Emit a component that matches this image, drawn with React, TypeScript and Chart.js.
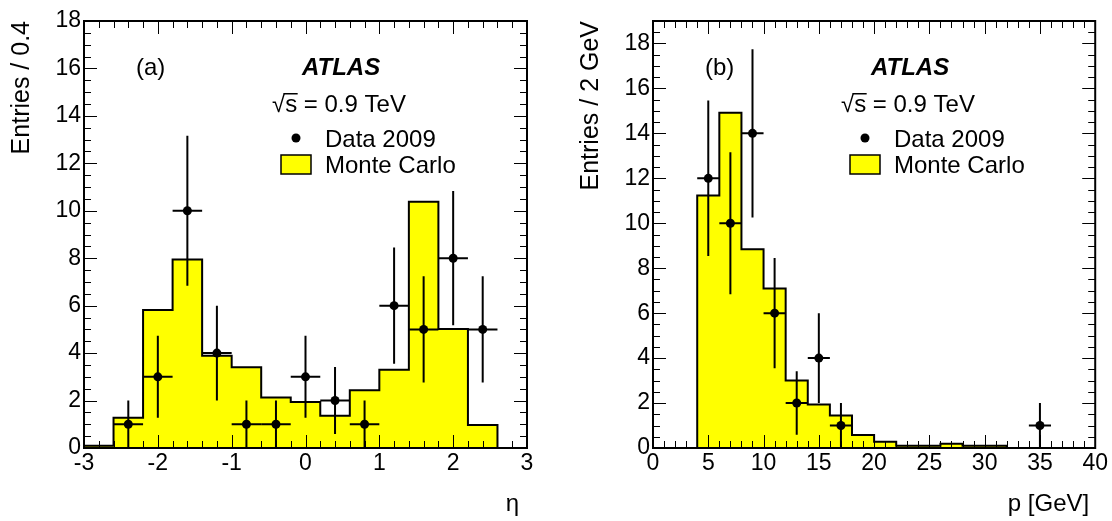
import React, { useEffect, useRef } from 'react';
import { Chart, registerables } from 'chart.js';

Chart.register(...registerables);

const FONT = "'Liberation Sans', Arial, Helvetica, sans-serif";

// ---------- Panel (a): eta ----------
const etaEdges = [-3.0, -2.6, -2.2, -1.8, -1.4, -1.0, -0.6, -0.2, 0.2, 0.6, 1.0, 1.4, 1.8, 2.2, 2.6, 3.0];
const etaMC = [0.1, 1.27, 5.82, 7.95, 3.89, 3.4, 2.13, 1.94, 1.36, 2.43, 3.3, 10.38, 5.02, 0.97, 0];
const etaDataX = [-2.4, -2.0, -1.6, -1.2, -0.8, -0.4, 0.0, 0.4, 0.8, 1.2, 1.6, 2.0, 2.4];
const etaDataY = [1, 3, 10, 4, 1, 1, 3, 2, 1, 6, 5, 8, 5];
const etaDataErr = [1, 1.73, 3.16, 2, 1, 1, 1.73, 1.41, 1, 2.45, 2.24, 2.83, 2.24];
const etaXTicks = [-3, -2, -1, 0, 1, 2, 3];
const etaYTicks = [0, 2, 4, 6, 8, 10, 12, 14, 16, 18];

// ---------- Panel (b): p ----------
const pEdges = [0, 2, 4, 6, 8, 10, 12, 14, 16, 18, 20, 22, 24, 26, 28, 30, 32, 34, 36, 38, 40];
const pMC = [0, 0, 11.24, 14.92, 8.84, 7.1, 3.0, 1.94, 1.45, 0.58, 0.28, 0.1, 0.1, 0.19, 0.1, 0.1, 0, 0, 0, 0];
const pDataX = [5, 7, 9, 11, 13, 15, 17, 35];
const pDataY = [12, 10, 14, 6, 2, 4, 1, 1];
const pDataErr = [3.46, 3.16, 3.74, 2.45, 1.41, 2, 1, 1];
const pXTicks = [0, 5, 10, 15, 20, 25, 30, 35, 40];
const pYTicks = [0, 2, 4, 6, 8, 10, 12, 14, 16, 18];

function stepPoints(edges: number[], vals: number[]) {
  const pts: { x: number; y: number }[] = [{ x: edges[0], y: 0 }];
  vals.forEach((v, i) => pts.push({ x: edges[i], y: v }));
  pts.push({ x: edges[edges.length - 1], y: 0 });
  return pts;
}

type PanelCfg = {
  left: number;
  width: number;
  padRight: number;
  edges: number[];
  mc: number[];
  dataX: number[];
  dataY: number[];
  dataErr: number[];
  halfBin: number;
  xMin: number;
  xMax: number;
  yMax: number;
  xTicks: number[];
  yTicks: number[];
  xMinor: number;
  xMajor: number;
  yMinor: number;
  yMajor: number;
  yTitle: string;
  xTitle: string;
  xTitleShift: number;
  tag: string;
};

const panels: PanelCfg[] = [
  {
    left: 0, width: 569, padRight: 42,
    edges: etaEdges, mc: etaMC, dataX: etaDataX, dataY: etaDataY, dataErr: etaDataErr, halfBin: 0.2,
    xMin: -3, xMax: 3, yMax: 18, xTicks: etaXTicks, yTicks: etaYTicks,
    xMinor: 0.2, xMajor: 1, yMinor: 0.5, yMajor: 2,
    yTitle: 'Entries / 0.4', xTitle: 'η', xTitleShift: -8, tag: '(a)',
  },
  {
    left: 569, width: 543, padRight: 15,
    edges: pEdges, mc: pMC, dataX: pDataX, dataY: pDataY, dataErr: pDataErr, halfBin: 1,
    xMin: 0, xMax: 40, yMax: 19, xTicks: pXTicks, yTicks: pYTicks,
    xMinor: 1, xMajor: 5, yMinor: 0.5, yMajor: 2,
    yTitle: 'Entries / 2 GeV', xTitle: 'p [GeV]', xTitleShift: -6, tag: '(b)',
  },
];

function makePlugin(cfg: PanelCfg) {
  return {
    id: 'rootStyle',
    afterDatasetDraw(chart: any, args: any) {
      if (args.index !== 0) return;
      const { ctx, chartArea } = chart;
      const xs = chart.scales.x;
      const ys = chart.scales.y;
      ctx.save();
      ctx.beginPath();
      ctx.rect(chartArea.left, chartArea.top, chartArea.right - chartArea.left, chartArea.bottom - chartArea.top);
      ctx.clip();
      ctx.strokeStyle = '#000';
      ctx.lineWidth = 2;
      cfg.dataX.forEach((x, i) => {
        const y = cfg.dataY[i];
        const e = cfg.dataErr[i];
        const px = xs.getPixelForValue(x);
        const py = ys.getPixelForValue(y);
        ctx.beginPath();
        ctx.moveTo(xs.getPixelForValue(x - cfg.halfBin), py);
        ctx.lineTo(xs.getPixelForValue(x + cfg.halfBin), py);
        ctx.moveTo(px, ys.getPixelForValue(Math.max(0, y - e)));
        ctx.lineTo(px, ys.getPixelForValue(y + e));
        ctx.stroke();
      });
      ctx.restore();
    },
    afterDraw(chart: any) {
      const { ctx, chartArea } = chart;
      const { left, right, top, bottom } = chartArea;
      const xs = chart.scales.x;
      const ys = chart.scales.y;
      ctx.save();
      // ticks
      ctx.strokeStyle = '#000';
      ctx.lineWidth = 1;
      const nx = Math.round((cfg.xMax - cfg.xMin) / cfg.xMinor);
      for (let i = 0; i <= nx; i++) {
        const v = cfg.xMin + i * cfg.xMinor;
        const r = v / cfg.xMajor;
        const major = Math.abs(r - Math.round(r)) < 1e-6;
        const len = major ? 13 : 7;
        const px = Math.round(xs.getPixelForValue(v)) + 0.5;
        ctx.beginPath();
        ctx.moveTo(px, bottom);
        ctx.lineTo(px, bottom - len);
        ctx.moveTo(px, top);
        ctx.lineTo(px, top + len);
        ctx.stroke();
      }
      const ny = Math.round(cfg.yMax / cfg.yMinor);
      for (let i = 0; i <= ny; i++) {
        const v = i * cfg.yMinor;
        const r = v / cfg.yMajor;
        const major = Math.abs(r - Math.round(r)) < 1e-6;
        const len = major ? 13 : 7;
        const py = Math.round(ys.getPixelForValue(v)) + 0.5;
        ctx.beginPath();
        ctx.moveTo(left, py);
        ctx.lineTo(left + len, py);
        ctx.moveTo(right, py);
        ctx.lineTo(right - len, py);
        ctx.stroke();
      }
      // frame
      ctx.lineWidth = 2;
      ctx.strokeRect(left, top, right - left, bottom - top);

      // texts
      ctx.fillStyle = '#000';
      ctx.textAlign = 'left';
      ctx.textBaseline = 'alphabetic';
      ctx.font = `24px ${FONT}`;
      ctx.fillText(cfg.tag, left + 52, 75);

      ctx.font = `italic bold 24px ${FONT}`;
      ctx.fillText('ATLAS', left + 218, 75);

      ctx.font = `24px ${FONT}`;
      const sx = left + 188;
      const sy = 112;
      const rootTxt = '√';
      ctx.fillText('√s = 0.9 TeV', sx, sy);
      const mRoot = ctx.measureText(rootTxt);
      const wS = ctx.measureText('s').width;
      const rootTop = sy - mRoot.actualBoundingBoxAscent;
      ctx.lineWidth = 1.5;
      ctx.beginPath();
      ctx.moveTo(sx + mRoot.width - 1.5, rootTop + 0.75);
      ctx.lineTo(sx + mRoot.width + wS + 0.5, rootTop + 0.75);
      ctx.stroke();

      // legend
      ctx.beginPath();
      ctx.arc(left + 212, 138, 4.5, 0, Math.PI * 2);
      ctx.fill();
      ctx.fillText('Data 2009', left + 241, 146.5);
      ctx.fillStyle = '#ffff00';
      ctx.fillRect(left + 197, 155, 30, 19);
      ctx.strokeStyle = '#000';
      ctx.lineWidth = 1.5;
      ctx.strokeRect(left + 197, 155, 30, 19);
      ctx.fillStyle = '#000';
      ctx.fillText('Monte Carlo', left + 241, 172.5);

      // x title
      ctx.textAlign = 'right';
      ctx.fillText(cfg.xTitle, right + cfg.xTitleShift, 511);
      ctx.restore();
    },
  };
}

function Panel({ cfg }: { cfg: PanelCfg }) {
  const ref = useRef<HTMLCanvasElement | null>(null);
  useEffect(() => {
    const canvas = ref.current;
    if (!canvas) return;
    const tickFont = { size: 23, family: FONT, lineHeight: 1 };
    const chart = new Chart(canvas, {
      type: 'line',
      data: {
        datasets: [
          {
            label: 'Monte Carlo',
            data: stepPoints(cfg.edges, cfg.mc),
            stepped: true,
            fill: 'origin',
            backgroundColor: '#ffff00',
            borderColor: '#000000',
            borderWidth: 2,
            pointRadius: 0,
            order: 2,
          } as any,
          {
            label: 'Data 2009',
            data: cfg.dataX.map((x, i) => ({ x, y: cfg.dataY[i] })),
            showLine: false,
            pointRadius: 4.5,
            pointBackgroundColor: '#000000',
            pointBorderColor: '#000000',
            pointBorderWidth: 0,
            borderColor: '#000000',
            order: 1,
          } as any,
        ],
      },
      options: {
        responsive: false,
        animation: false,
        devicePixelRatio: 1,
        layout: { padding: { left: 0, right: cfg.padRight, top: 21, bottom: 0 } },
        plugins: { legend: { display: false }, tooltip: { enabled: false } },
        scales: {
          x: {
            type: 'linear',
            min: cfg.xMin,
            max: cfg.xMax,
            afterFit: (s: any) => { s.height = 73; },
            afterBuildTicks: (s: any) => { s.ticks = cfg.xTicks.map((v) => ({ value: v })); },
            grid: { display: false, drawTicks: false },
            border: { display: false },
            ticks: { font: tickFont, color: '#000', padding: 4, maxRotation: 0, autoSkip: false },
          },
          y: {
            type: 'linear',
            min: 0,
            max: cfg.yMax,
            afterFit: (s: any) => { s.width = 84; },
            afterBuildTicks: (s: any) => { s.ticks = cfg.yTicks.map((v) => ({ value: v })); },
            grid: { display: false, drawTicks: false },
            border: { display: false },
            ticks: { font: tickFont, color: '#000', padding: 3, autoSkip: false },
            title: {
              display: true,
              text: cfg.yTitle,
              align: 'end',
              color: '#000',
              font: { size: 25, family: FONT, lineHeight: 1 },
              padding: { top: 9.5, bottom: 0 },
            },
          },
        },
      } as any,
      plugins: [makePlugin(cfg) as any],
    });
    return () => chart.destroy();
  }, [cfg]);
  return (
    <canvas
      ref={ref}
      width={cfg.width}
      height={521}
      style={{ position: 'absolute', left: cfg.left, top: 0, width: cfg.width, height: 521 }}
    />
  );
}

export default function App() {
  return (
    <div style={{ position: 'fixed', left: 0, top: 0, width: 1112, height: 521, background: '#ffffff', overflow: 'hidden' }}>
      {panels.map((p, i) => (
        <Panel key={i} cfg={p} />
      ))}
    </div>
  );
}
